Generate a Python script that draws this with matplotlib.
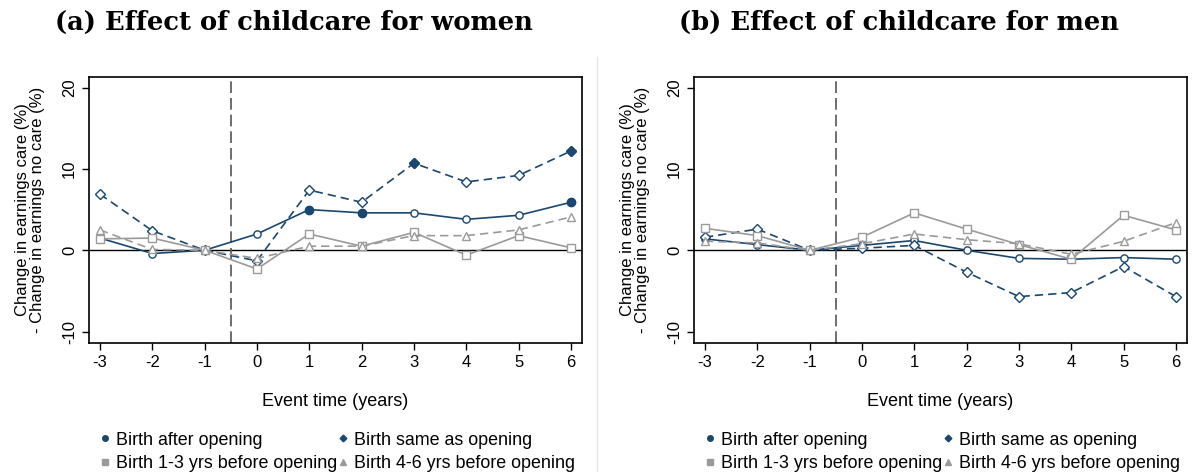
import numpy as np
import matplotlib.pyplot as plt
from matplotlib.lines import Line2D

years = [-3, -2, -1, 0, 1, 2, 3, 4, 5, 6]

# women
w_after = [1.5, -0.4, 0, 2.0, 5.0, 4.6, 4.6, 3.8, 4.3, 5.9]
w_same = [6.9, 2.4, 0, -1.3, 7.4, 5.9, 10.7, 8.4, 9.2, 12.2]
w_13 = [1.4, 1.5, 0, -2.3, 2.0, 0.5, 2.2, -0.6, 1.8, 0.3]
w_46 = [2.5, 0.1, 0, -1.0, 0.5, 0.5, 1.8, 1.8, 2.5, 4.1]
w_after_sig = [0, 0, 0, 0, 1, 1, 0, 0, 0, 1]
w_same_sig = [0, 0, 0, 0, 0, 0, 1, 0, 0, 1]

# men
m_after = [1.4, 0.7, 0, 0.6, 1.2, 0.0, -1.0, -1.1, -0.9, -1.1]
m_same = [1.6, 2.6, 0, 0.25, 0.6, -2.7, -5.7, -5.2, -2.0, -5.7]
m_13 = [2.7, 1.8, 0, 1.6, 4.6, 2.6, 0.7, -1.1, 4.3, 2.5]
m_46 = [1.1, 0.9, 0, 0.8, 2.0, 1.3, 0.8, -0.5, 1.1, 3.4]
no_sig = [0] * 10

titles = ['(a) Effect of childcare for women', '(b) Effect of childcare for men']
labels = ['Birth after opening', 'Birth same as opening',
          'Birth 1-3 yrs before opening', 'Birth 4-6 yrs before opening']

navy = '#1a476f'
grey = '#9a9a9a'
plt.rcParams['font.family'] = ['Liberation Sans', 'DejaVu Sans']
plt.rcParams['axes.unicode_minus'] = False

fig = plt.figure(figsize=(11.94, 4.72), dpi=100)

panels = [
    (0.0745, titles[0], [w_after, w_same, w_13, w_46], [w_after_sig, w_same_sig, no_sig, no_sig]),
    (0.5812, titles[1], [m_after, m_same, m_13, m_46], [no_sig, no_sig, no_sig, no_sig]),
]
styles = [
    (navy, '-', 'o', 5.2),
    (navy, (0, (5, 3)), 'D', 4.6),
    (grey, '-', 's', 5.2),
    (grey, (0, (5, 3)), '^', 5.7),
]

for left, title, series, sigs in panels:
    ax = fig.add_axes([left, 0.2733, 0.4129, 0.5636])
    ax.axhline(0, color='black', lw=1, zorder=1)
    ax.axvline(-0.5, color='#555555', lw=1.2, ls=(0, (7, 3)), zorder=1)
    x = np.array(years)
    for (c, ls, m, ms), y, sig in zip(styles, series, sigs):
        y = np.array(y)
        sig = np.array(sig, dtype=bool)
        ax.plot(x, y, color=c, ls=ls, lw=1.2, marker=m, ms=ms,
                mfc='white', mec=c, mew=1.0, zorder=3)
        ax.plot(x[sig], y[sig], ls='none', marker=m, ms=ms + 0.8,
                color=c, zorder=4)
    ax.set_xlim(-3.21, 6.21)
    ax.set_ylim(-11.4, 21.3)
    ax.set_xticks(years)
    ax.set_yticks([-10, 0, 10, 20])
    ax.tick_params(labelsize=12, length=5, width=1)
    for t in ax.get_yticklabels():
        t.set_rotation(90)
        t.set_va('center')
    ax.set_xlabel('Event time (years)', fontsize=13, labelpad=17)
    ax.set_ylabel('Change in earnings care (%)\n- Change in earnings no care (%)',
                  fontsize=12, labelpad=12, linespacing=1.05)
    for s in ax.spines.values():
        s.set_linewidth(1.2)
    fig.text(left + 0.4129 / 2 - 0.035, 0.953, title, ha='center', va='center',
             fontsize=18.5, fontweight='bold', family='DejaVu Serif')

    handles = [Line2D([], [], ls='none', marker=m, color=c, ms=ms - 1.2)
               for c, ls, m, ms in styles]
    order = [0, 2, 1, 3]
    ax.legend([handles[i] for i in order], [labels[i] for i in order],
              ncol=2, loc='upper left', bbox_to_anchor=(0.022, -0.333),
              frameon=False, fontsize=12.9, handlelength=0.55, handletextpad=0.35,
              columnspacing=0.05, labelspacing=0.36, borderaxespad=0,
              borderpad=0)

fig.add_artist(Line2D([0.5, 0.5], [0.0, 0.88], color='#e6e6e6', lw=1))

fig.savefig('out.png', dpi=100)
